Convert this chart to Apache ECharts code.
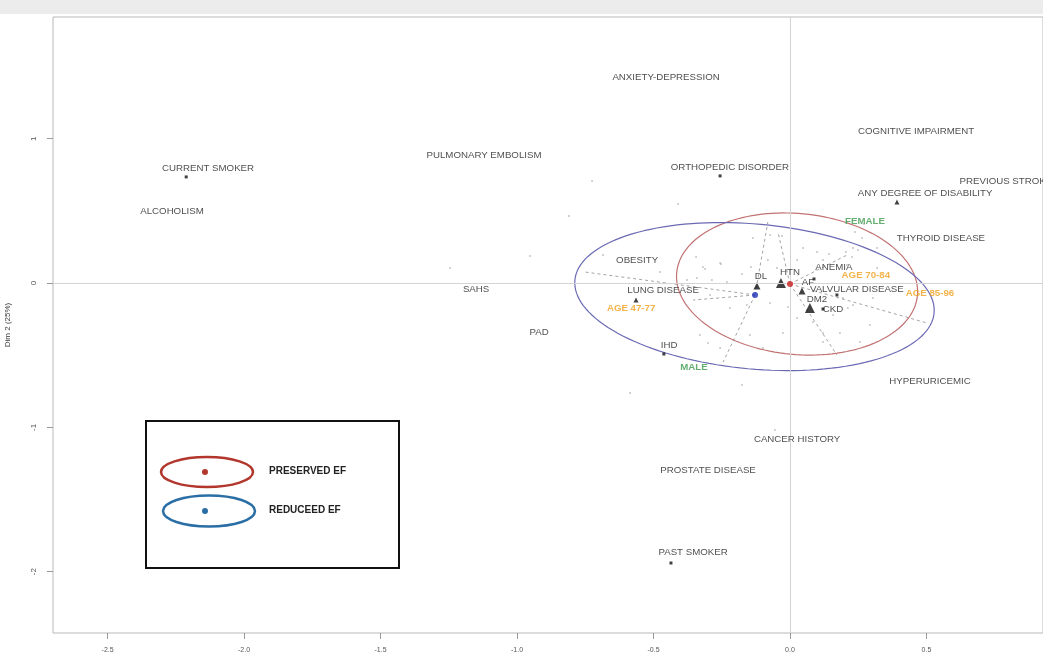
<!DOCTYPE html>
<html>
<head>
<meta charset="utf-8">
<script src="https://cdn.jsdelivr.net/npm/echarts@6/dist/echarts.min.js"></script>
<style>
  html, body { margin: 0; padding: 0; background: #fff; }
  #main { width: 1043px; height: 661px; }
</style>
</head>
<body>
<div id="main"></div>
<script>
// tick labels
const xTicks = [-2.5, -2.0, -1.5, -1.0, -0.5, 0.0, 0.5];
const yTicks = [-2, -1, 0, 1];

// category labels (text positions, Dim 1 / Dim 2)
const labelNames = ['ANXIETY-DEPRESSION', 'COGNITIVE IMPAIRMENT', 'PULMONARY EMBOLISM', 'CURRENT SMOKER',
  'ORTHOPEDIC DISORDER', 'PREVIOUS STROKE', 'ANY DEGREE OF DISABILITY', 'ALCOHOLISM', 'FEMALE',
  'THYROID DISEASE', 'OBESITY', 'ANEMIA', 'AGE 70-84', 'HTN', 'DL', 'AF', 'VALVULAR DISEASE',
  'AGE 85-96', 'SAHS', 'LUNG DISEASE', 'AGE 47-77', 'DM2', 'CKD', 'PAD', 'IHD', 'MALE',
  'HYPERURICEMIC', 'CANCER HISTORY', 'PROSTATE DISEASE', 'PAST SMOKER'];
const labelX = [-0.454, 0.462, -1.121, -2.132, -0.220, 0.791, 0.495, -2.264, 0.275,
  0.553, -0.560, 0.161, 0.278, 0.000, -0.106, 0.066, 0.245,
  0.513, -1.150, -0.465, -0.582, 0.099, 0.158, -0.919, -0.443, -0.352,
  0.513, 0.026, -0.300, -0.355];
const labelY = [1.428, 1.053, 0.887, 0.797, 0.804, 0.707, 0.624, 0.499, 0.430,
  0.312, 0.159, 0.111, 0.055, 0.076, 0.049, 0.007, -0.042,
  -0.069, -0.042, -0.049, -0.173, -0.111, -0.180, -0.340, -0.430, -0.582,
  -0.679, -1.081, -1.296, -1.864];
const labelKind = ['var', 'var', 'var', 'var', 'var', 'var', 'var', 'var', 'sex',
  'var', 'var', 'var', 'age', 'var', 'var', 'var', 'var',
  'age', 'var', 'var', 'age', 'var', 'var', 'var', 'var', 'sex',
  'var', 'var', 'var', 'var'];

// category points
const markerX = [-2.212, -0.256, 0.392, -0.564, -0.462, -0.436, -0.121, -0.033, 0.044, 0.073, 0.088, 0.172, 0.121];
const markerY = [0.735, 0.742, 0.561, -0.118, -0.492, -1.940, -0.021, 0.000, -0.055, -0.173, 0.028, -0.083, -0.180];
const markerShape = ['dot', 'dot', 'smalltri', 'smalltri', 'dot', 'dot', 'tri', 'bigtri', 'tri', 'bigtri', 'dot', 'dot', 'dot'];

// individuals
const indX = [-0.725, -0.810, -0.952, -1.245, -0.410, -0.685, -0.476, -0.344, -0.341, -0.311, -0.256, -0.176,
  -0.286, -0.377, -0.330, -0.300, -0.176, -0.586, -0.136, -0.073, -0.029, 0.048, 0.099, 0.143, 0.205, 0.231,
  0.264, 0.271, -0.319, -0.253, -0.143, -0.231, -0.081, -0.048, 0.026, 0.121, 0.209, 0.231, 0.194, 0.158,
  0.026, -0.007, -0.073, -0.158, -0.220, -0.293, -0.147, -0.026, 0.084, 0.121, 0.183, 0.121, -0.099, -0.256,
  0.256, 0.293, 0.304, 0.319, 0.319, 0.238, 0.249, 0.227, 0.212, -0.055];
const indY = [0.707, 0.464, 0.187, 0.104, 0.547, 0.194, 0.076, 0.180, 0.035, 0.097, 0.139, 0.062,
  0.021, 0.021, -0.360, -0.416, -0.707, -0.762, 0.312, 0.333, 0.326, 0.243, 0.215, 0.201, 0.215, 0.243,
  0.312, 0.409, 0.111, 0.132, 0.111, 0.007, 0.159, 0.104, 0.159, 0.159, 0.125, -0.152, -0.104, -0.222,
  -0.243, -0.166, -0.139, -0.152, -0.173, -0.083, -0.360, -0.347, -0.270, -0.347, -0.347, -0.409, -0.450, -0.450,
  -0.409, -0.291, -0.104, 0.104, 0.243, 0.353, 0.229, 0.180, -0.173, -1.019];

// group centres and ellipses
const redCenter = [0.000, -0.007];
const blueCenter = [-0.128, -0.083];
const redEllipseCenter = [0.026, -0.007];
const redEllipseA = [0.441, -0.079];
const redEllipseB = [-0.024, -0.486];
const blueEllipseCenter = [-0.130, -0.094];
const blueEllipseA = [0.658, -0.114];
const blueEllipseB = [-0.024, -0.500];

// dashed star lines (end points)
const blueStarEnds = [[-0.751, 0.076], [-0.245, -0.548], [-0.081, 0.423], [-0.355, -0.118]];
const redStarEnds = [[-0.044, 0.353], [0.172, -0.499], [0.502, -0.277], [0.209, 0.194]];

function ellipsePts(c, a, b) {
  const pts = [];
  for (let i = 0; i <= 144; i++) {
    const t = i / 144 * 2 * Math.PI;
    pts.push([c[0] + a[0] * Math.cos(t) + b[0] * Math.sin(t), c[1] + a[1] * Math.cos(t) + b[1] * Math.sin(t)]);
  }
  return pts;
}

const kindColor = { var: '#222', sex: '#3f9a4f', age: '#f0a01e' };
const markerSize = { dot: 3, smalltri: 5, tri: 7, bigtri: 10 };
const font = '"Liberation Sans", Arial, sans-serif';

const starData = [];
blueStarEnds.forEach(e => starData.push({ coords: [blueCenter, e] }));
redStarEnds.forEach(e => starData.push({ coords: [redCenter, e] }));

const myChart = echarts.init(document.getElementById('main'));
myChart.setOption({
  animation: false,
  backgroundColor: '#fff',
  grid: {
    left: 53, right: 0, top: 17, bottom: 28, show: true, borderColor: '#b8b8b8', borderWidth: 1,
    outerBoundsMode: 'none', containLabel: false
  },
  xAxis: {
    type: 'value', min: -2.70, max: 0.927,
    splitLine: { show: false },
    axisLine: { show: false, onZero: false },
    axisTick: { show: true, length: 6, customValues: xTicks, lineStyle: { color: '#999' } },
    axisLabel: { customValues: xTicks, formatter: v => v.toFixed(1), fontSize: 7, color: '#555', margin: 14, fontFamily: font }
  },
  yAxis: {
    type: 'value', min: -2.425, max: 1.843,
    name: 'Dim 2 (25%)', nameLocation: 'middle', nameRotate: 90, nameGap: 41,
    nameTextStyle: { fontSize: 8, color: '#333', fontFamily: font },
    splitLine: { show: false },
    axisLine: { show: false, onZero: false },
    axisTick: { show: true, length: 6, customValues: yTicks, lineStyle: { color: '#999' } },
    axisLabel: { customValues: yTicks, rotate: 90, fontSize: 8, color: '#555', margin: 15, fontFamily: font }
  },
  series: [
    {
      type: 'scatter', symbol: 'circle', symbolSize: 2,
      itemStyle: { color: '#b5b5b5' },
      data: indX.map((x, i) => [x, indY[i]]),
      markLine: {
        silent: true, symbol: 'none', label: { show: false },
        lineStyle: { color: '#d4d4d4', width: 1, type: 'solid' },
        data: [{ xAxis: 0 }, { yAxis: 0 }]
      },
      z: 1
    },
    {
      type: 'lines', coordinateSystem: 'cartesian2d',
      lineStyle: { color: '#9a9a9a', width: 1, type: [3, 3], opacity: 0.9 },
      data: starData, z: 2
    },
    {
      type: 'line', showSymbol: false, smooth: false,
      lineStyle: { color: '#c27272', width: 1.2 },
      data: ellipsePts(redEllipseCenter, redEllipseA, redEllipseB), z: 3
    },
    {
      type: 'line', showSymbol: false, smooth: false,
      lineStyle: { color: '#6a6ab4', width: 1.2 },
      data: ellipsePts(blueEllipseCenter, blueEllipseA, blueEllipseB), z: 3
    },
    {
      type: 'scatter',
      data: markerX.map((x, i) => ({
        value: [x, markerY[i]],
        symbol: markerShape[i] === 'dot' ? 'rect' : 'triangle',
        symbolSize: markerSize[markerShape[i]]
      })),
      itemStyle: { color: '#111' }, z: 4
    },
    {
      type: 'scatter', symbol: 'circle', symbolSize: 6,
      data: [{ value: redCenter, itemStyle: { color: '#cc2222' } }, { value: blueCenter, itemStyle: { color: '#2233bb' } }],
      z: 5
    },
    {
      type: 'scatter', symbolSize: 0,
      data: labelNames.map((n, i) => ({
        name: n, value: [labelX[i], labelY[i]],
        label: {
          color: kindColor[labelKind[i]],
          fontWeight: labelKind[i] === 'var' ? 'normal' : 'bold'
        }
      })),
      label: {
        show: true, position: 'inside', formatter: p => p.name,
        fontSize: 9.7, fontFamily: font
      },
      z: 6
    }
  ],
  graphic: [
    { type: 'rect', shape: { x: 0, y: 0, width: 1043, height: 14 }, style: { fill: '#ececec' }, z: 0 },
    { type: 'rect', shape: { x: 146, y: 421, width: 253, height: 147 }, style: { fill: '#fff', stroke: '#111', lineWidth: 2 }, z: 10 },
    { type: 'ellipse', shape: { cx: 207, cy: 472, rx: 46, ry: 15 }, style: { fill: 'none', stroke: '#b2362c', lineWidth: 2.5 }, z: 11 },
    { type: 'circle', shape: { cx: 205, cy: 472, r: 3 }, style: { fill: '#b2362c' }, z: 11 },
    { type: 'ellipse', shape: { cx: 209, cy: 511, rx: 46, ry: 15.5 }, style: { fill: 'none', stroke: '#2a6ea6', lineWidth: 2.5 }, z: 11 },
    { type: 'circle', shape: { cx: 205, cy: 511, r: 3 }, style: { fill: '#2a6ea6' }, z: 11 },
    { type: 'text', x: 269, y: 471, style: { text: 'PRESERVED EF', fill: '#222', font: 'bold 10px "Liberation Sans", Arial', verticalAlign: 'middle' }, z: 11 },
    { type: 'text', x: 269, y: 510, style: { text: 'REDUCEED EF', fill: '#222', font: 'bold 10px "Liberation Sans", Arial', verticalAlign: 'middle' }, z: 11 }
  ]
});
</script>
</body>
</html>
